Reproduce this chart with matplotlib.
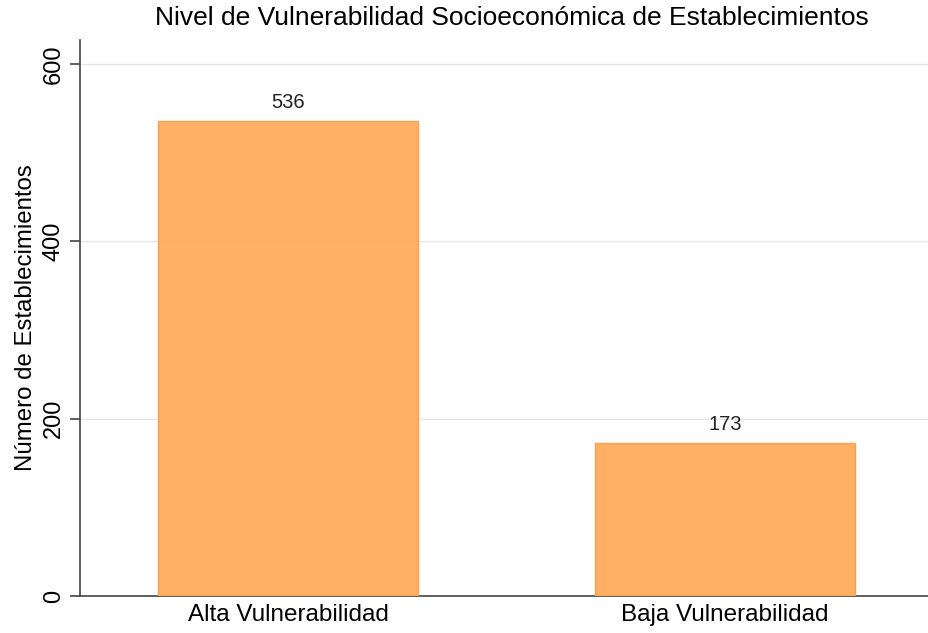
import matplotlib
matplotlib.use("Agg")
from matplotlib import pyplot as plt

categories = ["Alta Vulnerabilidad", "Baja Vulnerabilidad"]
counts = [536, 173]
y_ticks = [0, 200, 400, 600]

plt.rcParams['font.family'] = ['Liberation Sans', 'DejaVu Sans']

fig = plt.figure(figsize=(9.29, 6.33), dpi=100)
ax = fig.add_axes([80 / 929, 37 / 633, 1 - 80 / 929, 556 / 633])

x_positions = range(len(categories))
bars = ax.bar(x_positions, counts, width=0.595, color='#fdae61', alpha=0.97,
              edgecolor='#f7a04f', linewidth=1.0, zorder=3)
for bar, value in zip(bars, counts):
    ax.annotate(f"{value}", (bar.get_x() + bar.get_width() / 2, value),
                xytext=(0, 6), textcoords='offset points', ha='center', va='bottom',
                fontsize=14.5, color='#222222')

ax.set_xlim(-0.476, 1.467)
ax.set_ylim(0, 627)
ax.set_xticks(list(x_positions))
ax.set_xticklabels(categories, fontsize=17.5)
ax.tick_params(axis='x', length=0, pad=6)
ax.set_yticks(y_ticks)
ax.set_yticklabels([str(t) for t in y_ticks], fontsize=17, rotation=90, va='center')
ax.tick_params(axis='y', length=7, width=1.2, color='#444444', pad=4)
ax.yaxis.grid(True, color='#e6e6e6', linewidth=1.0, zorder=0)
ax.set_axisbelow(True)

for side in ['top', 'right']:
    ax.spines[side].set_visible(False)
for side in ['left', 'bottom']:
    ax.spines[side].set_color('#444444')
    ax.spines[side].set_linewidth(1.2)

ax.set_ylabel("Número de Establecimientos", fontsize=17.3, labelpad=4)
fig.suptitle("Nivel de Vulnerabilidad Socioeconómica de Establecimientos",
             fontsize=19, x=512 / 929, y=1 - 6 / 633, va='top')

fig.savefig("out.png", dpi=100)
